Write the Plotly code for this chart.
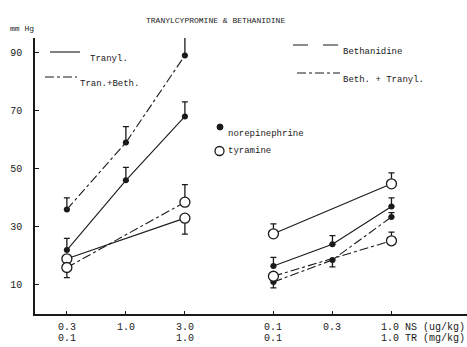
import plotly.graph_objects as go

# ---- data ----
x_left = [0, 1, 2]
x_right = [3.5, 4.5, 5.5]
tick_pos = [0, 1, 2, 3.5, 4.5, 5.5]
tick_line1 = ["0.3", "1.0", "3.0", "0.1", "0.3", "1.0 NS (ug/kg)"]
tick_line2 = ["0.1", "", "1.0", "0.1", "", "1.0 TR (mg/kg)"]
y_ticks = [10, 30, 50, 70, 90]

N = "none"  # no error bar drawn for this point

tranyl_ne = [22, 46, 68]
tranyl_ne_up = [4, 4.5, 5]
tranyl_ne_dn = [0, 0, 0]
tranbeth_ne = [36, 59, 89]
tranbeth_ne_up = [4, 5.5, 6.5]
tranbeth_ne_dn = [0, 0, 0]
tranyl_ty_x = [0, 2]
tranyl_ty = [19, 33]
tranyl_ty_up = [N, 0]
tranyl_ty_dn = [N, 5.5]
tranbeth_ty_x = [0, 2]
tranbeth_ty = [16, 38.5]
tranbeth_ty_up = [0, 6]
tranbeth_ty_dn = [3.5, 0]

beth_ne = [16.5, 24, 37]
beth_ne_up = [3, 3, 3]
beth_ne_dn = [0, 0, 0]
beth_ty_x = [3.5, 5.5]
beth_ty = [27.6, 44.8]
beth_ty_up = [3.4, 3.8]
beth_ty_dn = [0, 0]
bt_ne = [11, 18.6, 33.4]
bt_ne_up = [0, 0, 1.5]
bt_ne_dn = [2, 2.4, 0]
bt_ty_x = [3.5, 5.5]
bt_ty = [13, 25.2]
bt_ty_up = [N, 3]
bt_ty_dn = [N, 0]

INK = "#1a1a1a"
FONT = "Liberation Mono"

fig = go.Figure()

def add(x, y, dash, filled, up, dn):
    if filled:
        marker = dict(size=6, color=INK, symbol="circle")
    else:
        marker = dict(size=10, color="white", symbol="circle",
                      line=dict(color=INK, width=1.3))
    fig.add_trace(go.Scatter(
        x=x, y=y, mode="lines+markers",
        line=dict(color=INK, width=1.1, dash=dash),
        marker=marker,
        error_y=dict(type="data", symmetric=False, array=up, arrayminus=dn,
                     color=INK, thickness=1.3, width=3),
        showlegend=False))

add(x_left, tranyl_ne, "solid", True, tranyl_ne_up, tranyl_ne_dn)
add(x_left, tranbeth_ne, "dashdot", True, tranbeth_ne_up, tranbeth_ne_dn)
add(x_right, beth_ne, "solid", True, beth_ne_up, beth_ne_dn)
add(x_right, bt_ne, "dashdot", True, bt_ne_up, bt_ne_dn)
add(tranyl_ty_x, tranyl_ty, "solid", False, tranyl_ty_up, tranyl_ty_dn)
add(tranbeth_ty_x, tranbeth_ty, "dashdot", False, tranbeth_ty_up, tranbeth_ty_dn)
add(beth_ty_x, beth_ty, "solid", False, beth_ty_up, beth_ty_dn)
add(bt_ty_x, bt_ty, "dashdot", False, bt_ty_up, bt_ty_dn)

W, H = 467, 347
L, R, T, B = 35, 0, 38, 33

def px(xp):
    return (xp - L) / (W - L - R)

def py(yp):
    return 1 - (yp - T) / (H - T - B)

ann = []
for p, a, b in zip(tick_pos, tick_line1, tick_line2):
    for txt, yy in ((a, 327), (b, 338)):
        if not txt:
            continue
        ann.append(dict(x=p, y=py(yy), xref="x", yref="paper", text=txt,
                        showarrow=False,
                        xanchor="center" if p != 5.5 else "left",
                        xshift=0 if p != 5.5 else -12,
                        yanchor="middle",
                        font=dict(family=FONT, size=10, color=INK)))

ann.append(dict(x=px(215), y=py(14), xref="paper", yref="paper",
                text="TRANYLCYPROMINE & BETHANIDINE", showarrow=False,
                font=dict(family=FONT, size=8, color=INK)))
ann.append(dict(x=px(8), y=py(22), xref="paper", yref="paper", xanchor="left",
                text="mm Hg", showarrow=False,
                font=dict(family=FONT, size=8, color=INK)))

legend_items = [
    (88, 52, "Tranyl.", 50, 80, "solid"),
    (78, 77, "Tran.+Beth.", 45, 77, "dashdot"),
    (341, 45, "Bethanidine", 293, 340, "longdash"),
    (341, 73, "Beth. + Tranyl.", 297, 340, "dashdot"),
]
shapes = []
for tx, ty, label, x0, x1, dash in legend_items:
    ann.append(dict(x=px(tx), y=py(ty), xref="paper", yref="paper",
                    xanchor="left", text=label, showarrow=False,
                    font=dict(family=FONT, size=9, color=INK)))
    shapes.append(dict(type="line", xref="paper", yref="paper",
                       x0=px(x0), x1=px(x1), y0=py(ty), y1=py(ty),
                       line=dict(color=INK, width=1.1, dash=dash)))

ann.append(dict(x=px(226), y=py(127), xref="paper", yref="paper",
                xanchor="left", text="norepinephrine", showarrow=False,
                font=dict(family=FONT, size=9, color=INK)))
ann.append(dict(x=px(226), y=py(151), xref="paper", yref="paper",
                xanchor="left", text="tyramine", showarrow=False,
                font=dict(family=FONT, size=9, color=INK)))
shapes.append(dict(type="circle", xref="paper", yref="paper",
                   x0=px(217), x1=px(223), y0=py(124), y1=py(130),
                   fillcolor=INK, line=dict(color=INK, width=1)))
shapes.append(dict(type="circle", xref="paper", yref="paper",
                   x0=px(215), x1=px(224), y0=py(146.5), y1=py(155.5),
                   fillcolor="white", line=dict(color=INK, width=1.3)))

fig.update_layout(
    width=W, height=H,
    margin=dict(l=L, r=R, t=T, b=B),
    paper_bgcolor="white", plot_bgcolor="white",
    annotations=ann, shapes=shapes,
    xaxis=dict(range=[-0.54, 6.78], showgrid=False, zeroline=False,
               showline=True, linecolor=INK, linewidth=1.5,
               tickvals=tick_pos, ticktext=[""] * len(tick_pos),
               ticks="inside", ticklen=3, tickcolor=INK),
    yaxis=dict(range=[0, 95], showgrid=False, zeroline=False,
               showline=True, linecolor=INK, linewidth=1.5,
               tickvals=y_ticks, ticktext=[str(v) for v in y_ticks],
               ticks="inside", ticklen=4, tickcolor=INK,
               ticklabelstandoff=9,
               tickfont=dict(family=FONT, size=10, color=INK)),
)

fig.write_html("out.html")
